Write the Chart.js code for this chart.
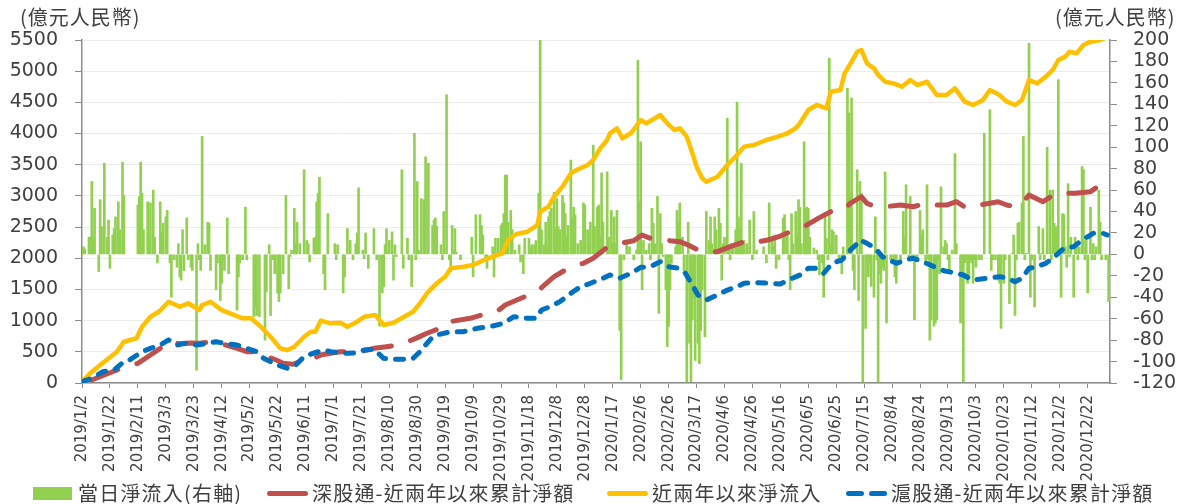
<!DOCTYPE html>
<html>
<head>
<meta charset="utf-8">
<script src="https://cdn.jsdelivr.net/npm/chart.js@4.4.1/dist/chart.umd.min.js"></script>
<style>
  html, body { margin: 0; padding: 0; background: #fff; }
  #wrap { position: relative; width: 1179px; height: 504px; overflow: hidden; }
  .unit { position: absolute; top: 5px; font: 20px "Noto Sans CJK TC", "Noto Sans CJK SC", sans-serif;
          color: #404040; letter-spacing: 1px; line-height: 24px; white-space: nowrap; }
  .leg { position: absolute; top: 481px; font: 20px "Noto Sans CJK TC", "Noto Sans CJK SC", sans-serif;
         color: #404040; letter-spacing: 1.2px; line-height: 24px; white-space: nowrap; }
  .sw { position: absolute; }
</style>
</head>
<body>
<div id="wrap">
  <canvas id="chart"></canvas>
  <div class="unit" style="left:20px">(億元人民幣)</div>
  <div class="unit" style="left:1055px">(億元人民幣)</div>

  <span class="sw" style="left:33px;top:487px;width:39px;height:13px;background:#92D050"></span>
  <div class="leg" style="left:78px">當日淨流入(右軸)</div>
  <span class="sw" style="left:267px;top:491px;width:41px;height:5px;border-radius:3px;background:#C0504D"></span>
  <div class="leg" style="left:312px">深股通-近兩年以來累計淨額</div>
  <span class="sw" style="left:607px;top:491px;width:41px;height:5px;border-radius:3px;background:#FFC000"></span>
  <div class="leg" style="left:652px">近兩年以來淨流入</div>
  <span class="sw" style="left:846px;top:491px;width:18px;height:5px;border-radius:3px;background:#0070C0"></span>
  <span class="sw" style="left:869px;top:491px;width:18px;height:5px;border-radius:3px;background:#0070C0"></span>
  <div class="leg" style="left:891px">滬股通-近兩年以來累計淨額</div>
</div>
<script>
// x values are days counted from 2019/1/2 (day 0)
const xTickDays = [0,20,40,60,80,100,120,140,160,180,200,220,240,260,280,300,320,340,360,
  380,400,420,440,460,480,500,520,540,560,580,600,620,640,660,680,700,720];
const xTickLabels = ["2019/1/2","2019/1/22","2019/2/11","2019/3/3","2019/3/23","2019/4/12","2019/5/2",
  "2019/5/22","2019/6/11","2019/7/1","2019/7/21","2019/8/10","2019/8/30","2019/9/19","2019/10/9",
  "2019/10/29","2019/11/18","2019/12/8","2019/12/28","2020/1/17","2020/2/6","2020/2/26","2020/3/17",
  "2020/4/6","2020/4/26","2020/5/16","2020/6/5","2020/6/25","2020/7/15","2020/8/4","2020/8/24",
  "2020/9/13","2020/10/3","2020/10/23","2020/11/12","2020/12/2","2020/12/22"];

// daily net inflow, 億元 (right axis) : [day, value]
const flow2019 = [
  [0,7],[1,7],[2,5],[5,16],[6,16],[7,68],[8,16],[9,43],[12,-16],[13,51],[14,26],[16,85],[18,16],[19,32],
  [20,-13],[22,18],[23,24],[24,35],[26,49],[27,23],[29,86],[30,55],[40,46],[41,54],[42,86],[43,57],[44,23],
  [47,49],[48,16],[49,48],[51,60],[52,16],[54,-8],[56,49],[57,20],[58,29],[60,35],[61,41],[63,-8],[64,-40],
  [66,-5],[68,-12],[69,10],[70,-21],[71,-24],[72,23],[73,-15],[75,34],[76,-5],[78,-12],[79,-15],[82,-108],
  [83,10],[84,-5],[85,-15],[86,110],[88,9],[90,30],[91,29],[92,-15],[96,-33],[97,-8],[99,-43],[100,-27],
  [101,-5],[102,-15],[104,34],[105,-18],[111,-52],[112,-21],[113,-8],[115,-5],[117,44],[118,-5],
  [123,-58],[124,-49],[125,-57],[127,-58],[131,-80],[132,-35],[134,9],[135,-57],[137,-5],[138,-18],[140,-36],
  [141,-44],[142,-36],[144,-18],[146,55],[148,-32],[149,-2],[150,4],[152,43],[153,10],[154,30],[156,10],
  [159,79],[161,13],[162,10],[163,-7],[166,15],[167,16],[168,49],[169,57],[170,72],[173,-18],[174,-33],
  [176,38],[181,10],[182,-5],[183,9],[187,-36],[188,-21],[190,24],[192,13],[194,-5],[196,10],[197,20],
  [198,62],[201,4],[202,-4],[203,20],[205,-13],[209,24],[211,-5],[213,-67],[215,-36],[216,-30],[217,9],
  [218,24],[220,13],[222,21],[223,-24],[224,9],[225,-2],[229,79],[230,-13],[233,15],[234,-5],[236,-30],
  [238,113],[239,-5],[240,68],[241,4],[243,52],[245,51],[246,91],[248,85],[251,27],[252,32],
  [253,34],[254,26],[257,9],[258,-5],[259,40],[261,149],[263,-5],[264,-16],[265,27],[266,4],[267,24],
  [268,2],[271,-5],[279,16],[280,-21],[282,37],[285,37],[286,27],[287,18],[289,-5],[290,-13],[294,7],
  [295,-21],[296,15],[297,1],[298,15],[300,27],[301,29],[302,38],[303,74],[304,74],[305,30],[307,41],
  [308,23],[310,4],[313,9],[314,-7],[316,-18],[317,15],[320,15],[321,6],[322,9],[324,9],[325,13],[327,57],
  [328,200],[329,23],[331,9],[332,30],[333,7],[334,35],[335,40],[336,43],[338,58],[339,24],[340,52],
  [341,26],[342,23],[344,55],[345,48],[346,38],[347,16],[348,27],[350,88],[351,34],[352,44],[353,37],
  [355,10],[357,13],[359,48],[360,46],[362,23],[363,9]
];
const flow2020 = [
  [364,30],[366,102],[367,26],[369,44],[370,46],[371,16],[372,76],[373,30],[376,77],[377,16],
  [379,41],[380,10],[381,35],[382,10],[383,41],[385,-71],[386,-117],[388,-5],[390,10],[392,7],[395,-5],
  [397,4],[398,181],[399,49],[400,105],[401,-33],[402,13],[404,4],[406,10],[407,-5],[408,43],[409,29],
  [410,10],[412,54],[413,-55],[414,38],[415,10],[416,-2],[418,-33],[419,-86],[420,-67],[421,-33],[422,-8],
  [425,7],[426,41],[427,29],[428,48],[430,16],[431,-15],[433,-119],[434,30],[435,-83],[436,-119],[437,-61],
  [438,-40],[439,-99],[441,-83],[442,-102],[443,-71],[444,-33],[446,-77],[447,40],[449,13],[450,35],
  [451,10],[453,35],[454,23],[456,43],[457,29],[458,-24],[459,10],[460,16],[462,127],[463,6],[464,-5],
  [465,10],[466,7],[468,23],[469,142],[470,35],[471,23],[472,85],[473,10],[474,13],[476,10],[478,32],
  [480,-5],[481,40],[483,4],[488,7],[490,-8],[492,48],[494,13],[495,7],[496,18],[497,-13],[499,-5],
  [502,34],[503,37],[505,20],[506,-5],[507,-33],[508,38],[509,10],
  [511,40],[512,18],[513,51],[514,44],[515,10],[517,105],[518,43],[519,44],[520,43],[521,16],[524,6],
  [526,4],[527,-5],[528,-19],[530,-8],[531,-40],[532,38],[533,15],[534,-5],[535,183],[536,10],[537,23],
  [538,21],[540,18],[542,-5],[544,-18],[545,7],[546,-5],[548,155],[549,132],[550,57],[551,146],[552,-15],
  [553,-33],[555,79],[556,-43],[557,68],[558,57],[559,-119],[561,-69],[562,-5],[563,-21],[564,-8],
  [565,-30],[567,-40],[568,35],[569,-5],[570,-119],[571,-18],[572,-27],[573,-12],[574,-15],[575,77],
  [576,-64],[579,-5],[581,-8],[582,-21],[583,-27],[586,-5],[588,40],[589,16],[590,65],[592,-5],[593,54],
  [594,-5],[596,-61],[598,-5],[600,41],[601,18],[602,23],[604,-8],[605,65],[606,-5],[607,-80],[608,-61],
  [610,-67],[611,-64],[612,-61],[613,-5],[614,-18],[615,63],[617,7],[618,13],[619,10],[620,-5],[621,-15],
  [623,4],[625,94],[626,10],[629,-64],[630,-15],[631,-119],[632,-8],[633,-5],[634,-27],[635,-22],[636,-5],
  [637,-8],[638,-27],[639,-5],[640,-12],[642,-5],[644,-5],[646,113],[650,135],[651,-15],[652,-5],[654,-5],
  [656,-24],[657,-27],[658,-69],[660,-27],[661,-5],[664,-46],[666,1],[667,18],[668,-57],[669,-5],[670,29],
  [671,30],[673,48],[674,110],[675,-5],[676,1],[678,197],[679,-40],[680,-5],[682,-49],[685,26],[686,-5],
  [687,1],[688,24],[689,-5],[691,100],[693,60],[694,-5],[695,60],[696,29],[697,26],[698,23],[699,163],
  [701,-40],[702,38],[703,37],[704,7],[705,-12],[706,66],[707,-2],[708,16],[710,-40],[711,16],[712,7],
  [713,-5],[714,7],[716,82],[717,79],[718,-5],[719,13],[720,-36],[722,44],[723,-5],[724,10],[725,-5],
  [726,7],[728,60],[729,30],[730,-5],[733,-5],[735,-44]
];

// cumulative net flows, 億元 (left axis) : [day, value]
const szCum = [
  [7,48],[16,128],[25,208],[40,316],[49,449],[56,556],[62,662],[70,630],[77,640],[84,636],[92,662],
  [103,609],[111,556],[118,502],[124,502],[130,449],[139,369],[144,316],[151,300],[159,369],[166,396],
  [171,449],[178,476],[185,502],[199,502],[209,556],[218,582],[227,609],[239,716],[247,797],[253,850],
  [259,877],[263,983],[278,1037],[290,1118],[297,1143],[303,1250],[317,1384],[326,1464],[331,1571],
  [338,1705],[350,1865],[359,1919],[366,2000],[375,2160],[385,2240],[395,2282],[401,2373],[407,2320],
  [410,2320],[421,2282],[428,2266],[434,2213],[441,2133],[447,2090],[455,2106],[464,2186],[474,2266],
  [478,2240],[491,2293],[500,2357],[507,2426],[517,2506],[527,2640],[536,2747],[545,2774],[550,2881],
  [558,2987],[562,2881],[568,2827],[575,2827],[586,2854],[595,2827],[605,2881],[607,2854],[619,2854],
  [626,2907],[633,2810],[643,2854],[656,2907],[662,2854],[668,2827],[673,2881],[678,3015],[688,2907],
  [697,3041],[703,3041],[711,3041],[722,3068],[729,3175],[735,3148]
];
const totalCum = [
  [0,20],[6,160],[16,342],[25,502],[30,662],[39,717],[43,903],[49,1063],[55,1143],[62,1303],[70,1223],
  [76,1278],[84,1170],[86,1250],[92,1303],[100,1170],[106,1118],[115,1037],[121,1040],[128,903],[135,742],
  [142,556],[147,529],[152,582],[159,742],[164,823],[167,823],[171,1000],[178,957],[185,967],[190,903],
  [197,983],[202,1063],[210,1090],[216,930],[223,967],[230,1053],[237,1143],[242,1278],[247,1438],
  [250,1510],[254,1599],[260,1705],[264,1840],[273,1865],[280,1892],[288,1972],[294,2025],[301,2080],
  [305,2293],[311,2389],[319,2426],[326,2533],[328,2747],[334,2827],[338,2987],[344,3148],[350,3362],
  [354,3415],[362,3496],[366,3576],[371,3763],[376,3897],[378,4004],[383,4084],[387,3924],[393,4004],
  [400,4217],[404,4164],[414,4297],[419,4164],[424,4057],[428,4084],[433,3950],[437,3683],[440,3469],
  [444,3282],[447,3228],[455,3308],[462,3496],[469,3656],[474,3790],[481,3816],[490,3897],[498,3950],
  [505,4004],[511,4084],[514,4164],[520,4378],[526,4458],[533,4404],[536,4671],[543,4698],[546,4966],
  [551,5152],[555,5312],[558,5340],[562,5126],[567,5046],[570,4939],[575,4831],[581,4805],[587,4751],
  [593,4858],[598,4778],[605,4831],[612,4618],[619,4618],[625,4725],[632,4511],[638,4458],[645,4538],
  [650,4698],[657,4618],[662,4511],[668,4458],[673,4538],[678,4858],[684,4805],[690,4912],[695,5019],
  [699,5179],[704,5233],[707,5312],[712,5286],[717,5420],[722,5473],[729,5500],[735,5560]
];
const shCum = [
  [0,20],[7,75],[15,181],[23,208],[30,342],[34,369],[43,502],[49,556],[56,609],[62,690],[68,609],[74,636],
  [82,609],[90,636],[96,662],[102,636],[111,609],[118,556],[125,502],[130,396],[135,342],[140,289],
  [147,236],[153,289],[159,422],[164,465],[173,529],[178,502],[190,476],[196,485],[202,529],[209,540],
  [216,396],[223,380],[230,380],[237,396],[242,502],[247,636],[251,740],[254,770],[264,823],[273,823],
  [283,877],[292,903],[302,957],[309,1063],[319,1037],[325,1037],[329,1170],[335,1223],[342,1303],
  [350,1438],[357,1544],[364,1599],[373,1679],[378,1732],[385,1679],[393,1759],[400,1855],[407,1865],
  [414,1945],[420,1865],[427,1839],[432,1759],[437,1571],[441,1411],[447,1331],[455,1411],[462,1491],
  [469,1544],[474,1599],[483,1608],[493,1599],[500,1587],[507,1663],[514,1732],[520,1839],[526,1839],
  [531,1759],[537,1919],[544,1972],[549,2106],[554,2213],[557,2293],[562,2240],[568,2160],[573,2025],
  [579,1961],[583,1919],[591,1983],[595,2000],[602,1945],[610,1865],[617,1801],[624,1769],[631,1732],
  [635,1680],[638,1652],[648,1679],[657,1705],[663,1679],[668,1624],[673,1679],[678,1839],[682,1855],
  [690,1919],[695,2000],[703,2160],[710,2186],[716,2293],[724,2400],[731,2400],[734,2373]
];

const toPts = (arr) => arr.map(([x, y]) => ({ x, y }));

const AXIS = "#8c8c8c";
const TXT = "#404040";
const tickFont = { family: "DejaVu Sans", size: 19 };

new Chart(document.getElementById("chart"), {
  type: "bar",
  data: {
    datasets: [
      { type: "bar", label: "當日淨流入(右軸)", data: toPts(flow2019.concat(flow2020)),
        yAxisID: "y1", backgroundColor: "#92D050", barThickness: 2, order: 4 },
      { type: "line", label: "深股通-近兩年以來累計淨額", data: toPts(szCum), yAxisID: "y",
        borderColor: "#C0504D", borderWidth: 5, borderDash: [28, 20], borderCapStyle: "round",
        borderJoinStyle: "round", pointRadius: 0, tension: 0, fill: false, order: 3 },
      { type: "line", label: "近兩年以來淨流入", data: toPts(totalCum), yAxisID: "y",
        borderColor: "#FFC000", borderWidth: 4.5, borderCapStyle: "round",
        borderJoinStyle: "round", pointRadius: 0, tension: 0, fill: false, order: 2 },
      { type: "line", label: "滬股通-近兩年以來累計淨額", data: toPts(shCum), yAxisID: "y",
        borderColor: "#0070C0", borderWidth: 5, borderDash: [8, 10], borderCapStyle: "round",
        borderJoinStyle: "round", pointRadius: 0, tension: 0, fill: false, order: 1 },
    ],
  },
  options: {
    responsive: true,
    maintainAspectRatio: false,
    animation: false,
    devicePixelRatio: 1,
    layout: { padding: { top: 40, left: 0, right: 0, bottom: 0 } },
    plugins: { legend: { display: false }, tooltip: { enabled: false } },
    scales: {
      x: {
        type: "linear", min: 0, max: 736, offset: false,
        grid: { drawOnChartArea: false, offset: false, drawTicks: true, tickLength: 5, tickColor: AXIS },
        border: { display: true, color: AXIS, width: 1.5 },
        afterBuildTicks: (s) => { s.ticks = xTickDays.map(v => ({ value: v })); },
        afterFit: (s) => { s.height = 121; },
        ticks: {
          autoSkip: false, minRotation: 90, maxRotation: 90, padding: 7, color: TXT,
          font: { family: "DejaVu Sans", size: 15 },
          callback: (v) => xTickLabels[xTickDays.indexOf(v)],
        },
      },
      y: {
        position: "left", min: 0, max: 5500,
        grid: { color: "#ececec", lineWidth: 1, drawTicks: true, tickLength: 7, tickColor: AXIS },
        border: { display: true, color: AXIS, width: 1.5 },
        afterFit: (s) => { s.width = 82; },
        ticks: { stepSize: 500, autoSkip: false, padding: 17, color: TXT, font: tickFont,
                 callback: (v) => String(v) },
      },
      y1: {
        position: "right", min: -120, max: 200,
        grid: { drawOnChartArea: false, drawTicks: true, tickLength: 7, tickColor: AXIS },
        border: { display: true, color: AXIS, width: 1.5 },
        afterFit: (s) => { s.width = 69; },
        ticks: { stepSize: 20, autoSkip: false, padding: 16, color: TXT, font: tickFont,
                 callback: (v) => String(v) },
      },
    },
  },
});
</script>
</body>
</html>
